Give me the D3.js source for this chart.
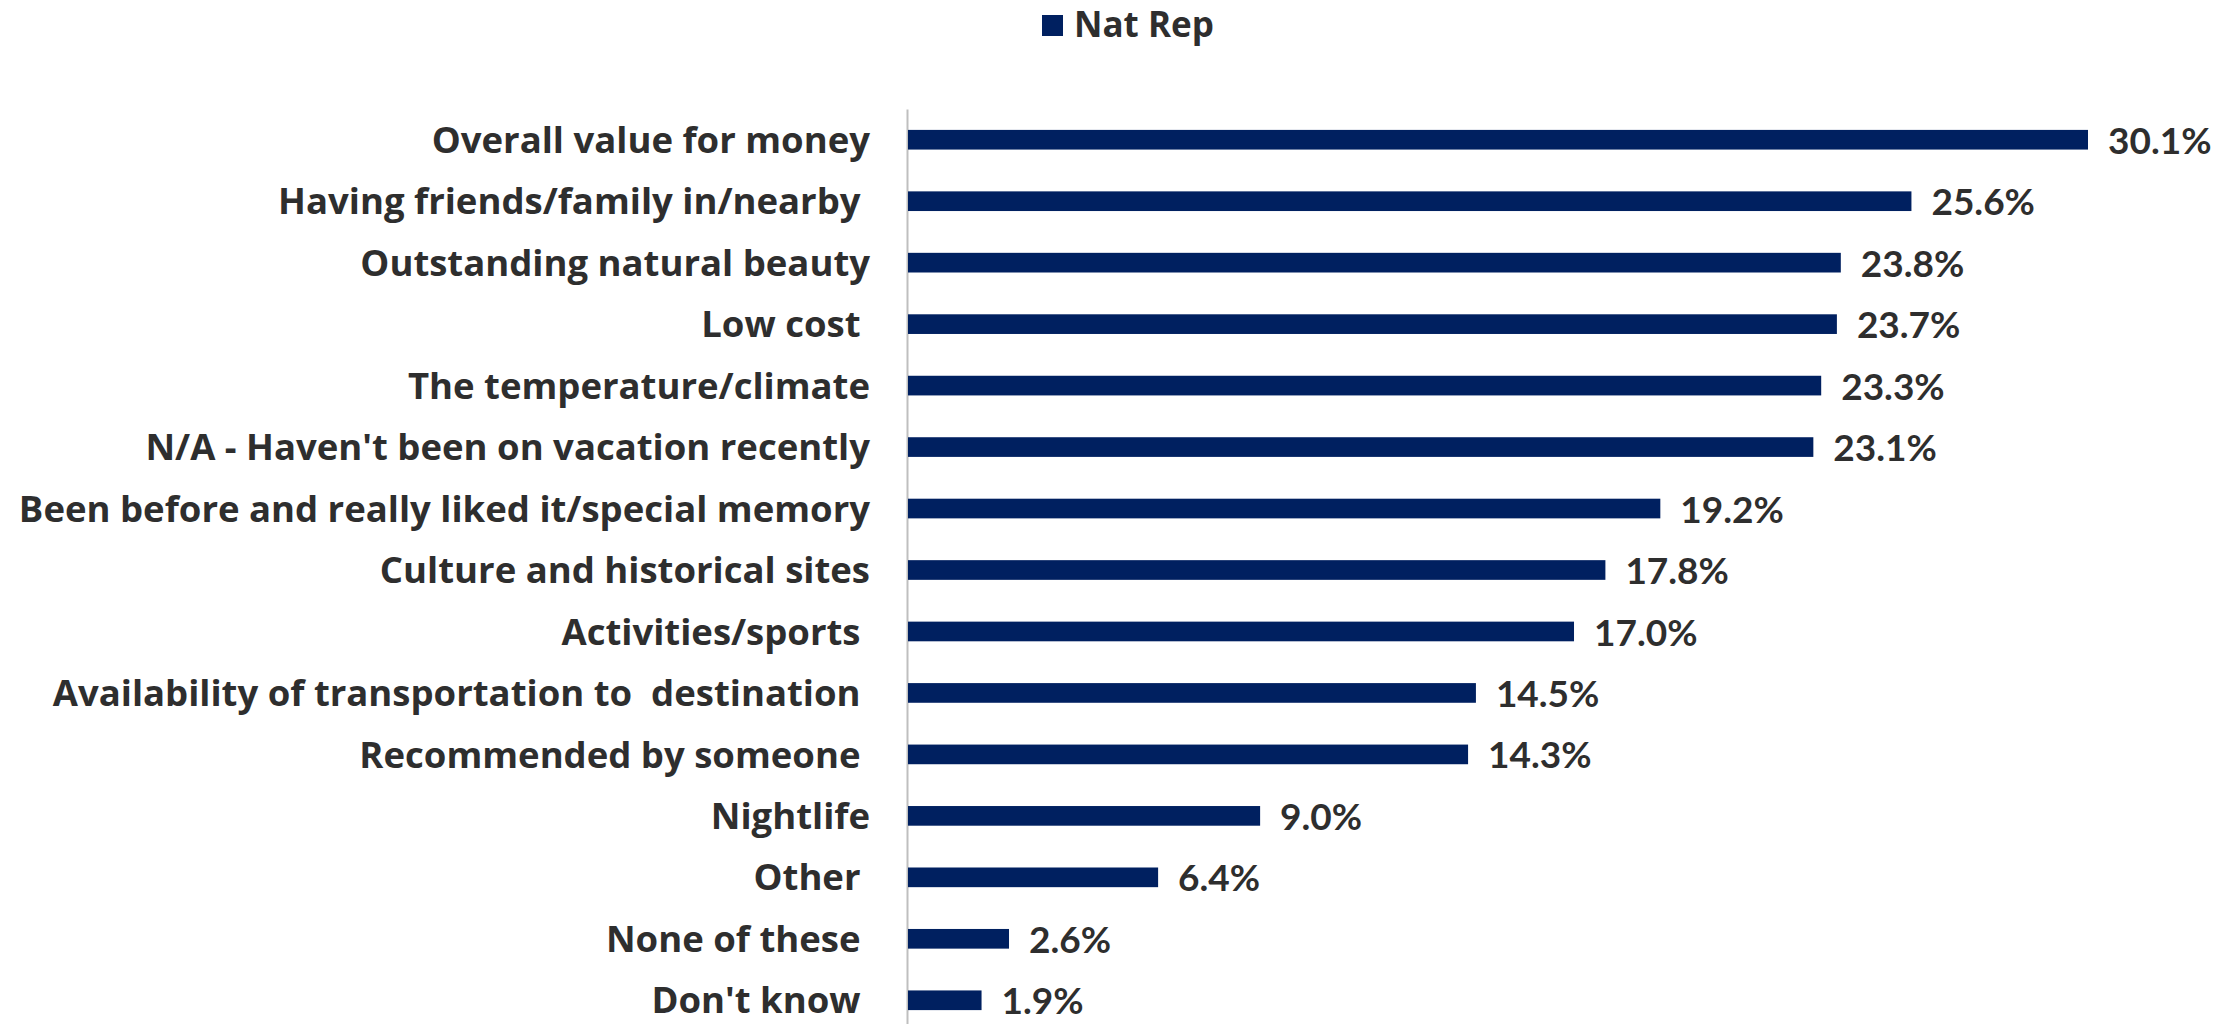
<!DOCTYPE html>
<html lang="en">
<head>
    <meta charset="UTF-8">
    <title>Vacation destination factors</title>
    <style>
        body { margin: 0; background: #fff; }
        .axis text, .legend text {
            font-family: "Open Sans", Lato, sans-serif;
            font-weight: 700;
            fill: #2e2e2e;
            white-space: pre;
        }
        .value {
            font-family: Lato, "Open Sans", sans-serif;
            font-weight: 700;
            fill: #2e2e2e;
        }
    </style>
</head>
<body>
    <svg id="chart" width="2216" height="1024"></svg>
    <script src="https://d3js.org/d3.v7.min.js"></script>
    <script>
        var categories = [
            "Overall value for money",
            "Having friends/family in/nearby ",
            "Outstanding natural beauty",
            "Low cost ",
            "The temperature/climate",
            "N/A - Haven't been on vacation recently",
            "Been before and really liked it/special memory",
            "Culture and historical sites",
            "Activities/sports ",
            "Availability of transportation to  destination ",
            "Recommended by someone ",
            "Nightlife",
            "Other ",
            "None of these ",
            "Don't know "
        ];
        var natRep = [30.1, 25.6, 23.8, 23.7, 23.3, 23.1, 19.2, 17.8, 17.0, 14.5, 14.3, 9.0, 6.4, 2.6, 1.9];
        var seriesName = "Nat Rep";

        var width = 2216, height = 1024;
        var barColor = "#002060";
        var svg = d3.select("#chart");

        var x = d3.scaleLinear()
            .domain([0, 30.1])
            .range([907, 2088]);

        var y = d3.scaleBand()
            .domain(categories)
            .range([109, 1031])
            .paddingInner(0.68)
            .paddingOuter(0.34);

        var data = categories.map((c, i) => ({ cat: c, val: natRep[i] }));

        // category axis
        var axis = svg.append("g")
            .attr("class", "axis")
            .attr("transform", "translate(" + x(0) + ",0)")
            .call(d3.axisLeft(y).tickSize(0).tickPadding(37));
        axis.select(".domain")
            .attr("stroke", "#bfbfbf")
            .attr("stroke-width", 2);
        axis.selectAll("text")
            .attr("font-size", 36.5)
            .attr("font-family", null)
            .attr("dy", "0.36em");

        // bars
        svg.selectAll(".bar")
            .data(data)
            .enter()
            .append("rect")
            .attr("class", "bar")
            .attr("x", x(0) + 1)
            .attr("y", d => y(d.cat))
            .attr("width", d => x(d.val) - x(0) - 1)
            .attr("height", y.bandwidth())
            .attr("fill", barColor);

        // value labels
        svg.selectAll(".value")
            .data(data)
            .enter()
            .append("text")
            .attr("class", "value")
            .attr("x", d => x(d.val) + 20)
            .attr("y", d => y(d.cat) + y.bandwidth() / 2)
            .attr("dy", "0.38em")
            .attr("font-size", 37)
            .text(d => d.val.toFixed(1) + "%");

        // legend
        var legend = svg.append("g").attr("class", "legend");
        legend.append("rect")
            .attr("x", 1042)
            .attr("y", 15)
            .attr("width", 21)
            .attr("height", 21)
            .attr("fill", barColor);
        legend.append("text")
            .attr("x", 1074)
            .attr("y", 37)
            .attr("font-size", 35)
            .text(seriesName);
    </script>
</body>
</html>
